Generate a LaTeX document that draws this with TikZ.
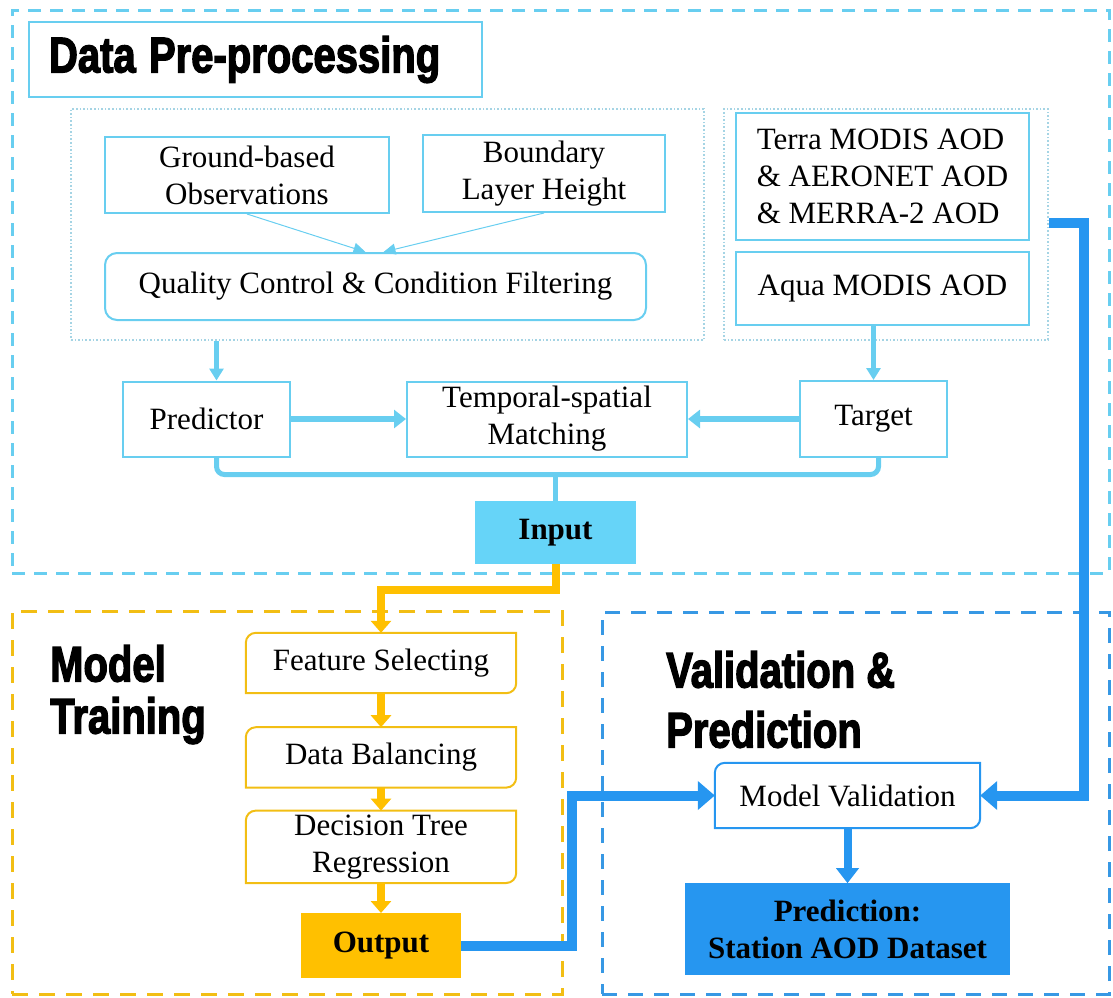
\documentclass[tikz,border=0pt]{standalone}
\usepackage{fontspec}
\setmainfont{Liberation Serif}
\newfontfamily\headfont{Liberation Sans}[BoldFeatures={FakeBold=3}]
\usepackage{graphicx}
\usepackage{tikz}
\usetikzlibrary{arrows.meta, positioning}
\definecolor{skyln}{RGB}{104,206,240}
\definecolor{skyfill}{RGB}{102,212,248}
\definecolor{dotln}{RGB}{165,212,228}
\definecolor{gold}{RGB}{255,192,0}
\definecolor{goldln}{RGB}{242,190,20}
\definecolor{azure}{RGB}{38,150,240}
\definecolor{azureln}{RGB}{55,152,228}
\newcommand{\hd}[1]{\scalebox{0.8}[1]{#1}}
\tikzset{
  frm/.style  = {draw, line width=3pt, inner sep=0pt},
  grp/.style  = {draw=dotln, dotted, line width=1.6pt, inner sep=0pt},
  bx/.style   = {draw=skyln, line width=2pt, fill=white, align=center, inner sep=0pt},
  rbx/.style  = {bx, rounded corners=12pt},
  db/.style   = {align=center, inner sep=0pt, minimum width=270pt, minimum height=60pt},
  ttl/.style  = {font=\headfont\bfseries\fontsize{50}{52}\selectfont, align=left, inner sep=0pt},
  thin/.style = {-{Triangle[length=12pt, width=11pt]}, line width=1pt, draw=skyln},
  mid/.style  = {line width=5pt, draw=skyln},
  fl/.style   = {-{Triangle[length=12pt, width=18pt]}, line width=6.5pt, draw=skyln},
  ofl/.style  = {-{Triangle[length=12pt, width=20pt]}, line width=8pt, draw=gold},
  bfl/.style  = {-{Triangle[length=17pt, width=28pt]}, line width=10pt, draw=azure},
}

\begin{document}
\begin{tikzpicture}[x=1pt, y=-1pt, font=\fontsize{31}{37}\selectfont]
  \useasboundingbox (0,0) rectangle (1113,997);

  % dashed stage frames
  \node[frm, draw=skyln, dash pattern=on 13pt off 9pt,
        minimum width=1097pt, minimum height=563pt] (dpfrm) at (560.5,291.5) {};
  \node[frm, draw=goldln, dash pattern=on 16pt off 11pt,
        minimum width=550pt, minimum height=383pt] (mtfrm) at (287,802.5) {};
  \node[frm, draw=azureln, dash pattern=on 15pt off 11pt,
        minimum width=507pt, minimum height=382pt] (vpfrm) at (855.5,803) {};

  % stage titles
  \node[bx, ttl, draw=skyln, text width=413pt, inner xsep=20pt, minimum height=75pt]
       (dphead) at (255.5,59.5) {\hd{Data Pre-processing}};
  \node[ttl, anchor=north west] (mthead) at (50,645) {\hd{Model}\\\hd{Training}};
  \node[ttl, anchor=north west, font=\headfont\bfseries\fontsize{50}{60}\selectfont]
       (vphead) at (666,651) {\hd{Validation \&}\\\hd{Prediction}};

  % data pre-processing
  \node[grp, minimum width=633pt, minimum height=231pt] (leftgrp)  at (387.5,224.5) {};
  \node[grp, minimum width=324pt, minimum height=231pt] (rightgrp) at (886,224.5) {};
  \node[bx, minimum width=284pt, minimum height=76pt] (ground) at (247,175) {Ground-based\\Observations};
  \node[bx, minimum width=242pt, minimum height=77pt] (blh) at (544,173.5) {Boundary\\Layer Height};
  \node[rbx, minimum width=541pt, minimum height=67pt] (qc) at (375.5,286.5) {Quality Control \& Condition Filtering};
  \node[bx, align=left, minimum width=293pt, minimum height=127pt] (terra) at (882.5,176.5)
       {Terra MODIS AOD\\\& AERONET AOD\\\& MERRA-2 AOD};
  \node[bx, minimum width=293pt, minimum height=73pt] (aqua) at (882.5,288.5) {Aqua MODIS AOD};
  \node[bx, minimum width=167pt, minimum height=75pt] (predictor) at (206.5,419) {Predictor};
  \node[bx, minimum width=280pt, minimum height=75pt] (tsm) at (547,419) {Temporal-spatial\\Matching};
  \node[bx, minimum width=147pt, minimum height=76pt] (target) at (873.5,419) {Target};
  \node[inner sep=0pt, fill=skyfill, font=\bfseries\fontsize{31}{37}\selectfont,
        minimum width=161pt, minimum height=63pt] (input) at (555.5,532.5) {Input};

  \draw[thin] (ground.south) -- ([xshift=-10pt]qc.north);
  \draw[thin] (blh.south) -- ([xshift=8pt]qc.north);
  \coordinate (pin) at ([xshift=10pt]predictor.north);
  \draw[mid, -{Triangle[length=12pt, width=14pt]}] (pin |- leftgrp.south) -- (pin);
  \draw[mid, -{Triangle[length=12pt, width=14pt]}] (target.north |- aqua.south) -- (target.north);
  \draw[fl] (predictor) -- (tsm);
  \draw[fl] (target) -- (tsm);
  \draw[mid, rounded corners=8pt] ([xshift=10pt]predictor.south) -- ++(0,17) -| ([xshift=5pt]target.south);
  \draw[mid] (input.north) -- ++(0,-28);

  % model training
  \node[db] (feat) at (381,663) {Feature Selecting};
  \node[db, below=34pt of feat] (bal) {Data Balancing};
  \node[db, below=23pt of bal, minimum height=72pt] (dtr) {Decision Tree\\Regression};
  \node[inner sep=0pt, fill=gold, font=\bfseries\fontsize{31}{37}\selectfont,
        minimum width=160pt, minimum height=65pt, below=30pt of dtr] (output) {Output};

  % validation and prediction
  \node[db, minimum width=265pt, minimum height=65pt] (valid) at (847.5,795.5) {Model Validation};
  \node[inner sep=0pt, fill=azure, align=center, font=\bfseries\fontsize{31}{37}\selectfont,
        minimum width=325pt, minimum height=92pt, below=55pt of valid] (pred)
       {Prediction:\\Station AOD Dataset};

  % frames with two rounded corners
  \foreach \n/\c in {feat/goldln, bal/goldln, dtr/goldln, valid/azure}
    \draw[\c, line width=2pt] (\n.north east) -- ([xshift=10pt]\n.north west)
      arc[start angle=90, end angle=180, radius=10pt] -- (\n.south west)
      -- ([xshift=-10pt]\n.south east) arc[start angle=270, end angle=360, radius=10pt] -- cycle;

  \draw[ofl] (input.south) -- ++(0,26) -| (feat.north);
  \draw[ofl] (feat) -- (bal);
  \draw[ofl] (bal) -- (dtr);
  \draw[ofl] (dtr) -- (output);
  \draw[bfl] (output.east) -- ++(111,0) |- (valid.west);
  \coordinate (mrg) at ([yshift=18pt]terra.south east);
  \draw[bfl] (mrg -| rightgrp.east) -- ++(35,0) |- (valid.east);
  \draw[bfl, line width=8pt, -{Triangle[length=15pt, width=22pt]}] (valid) -- (pred);
\end{tikzpicture}
\end{document}
